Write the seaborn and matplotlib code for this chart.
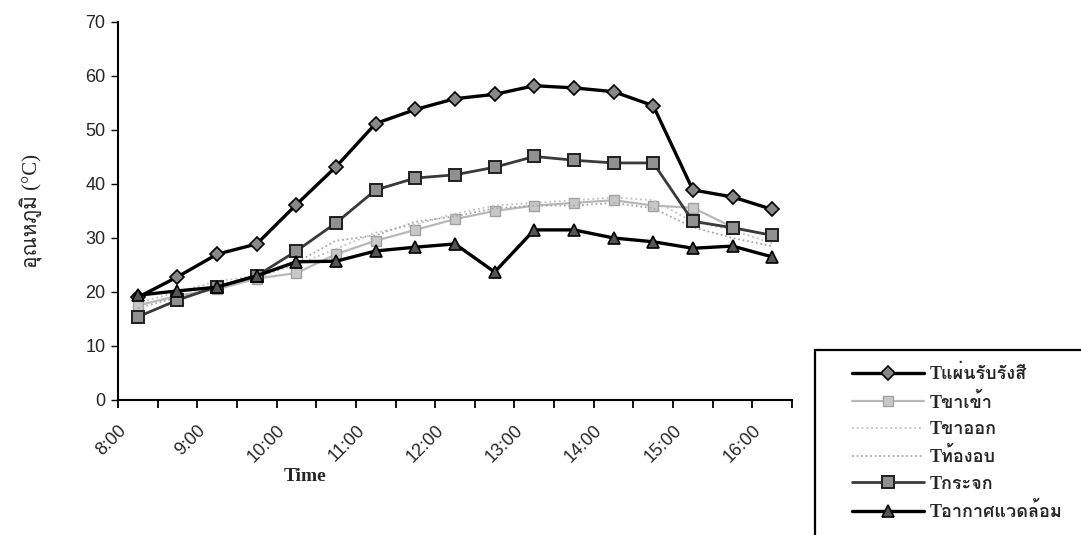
import numpy as np
import pandas as pd
import matplotlib
matplotlib.use("Agg")
import matplotlib.pyplot as plt
import seaborn as sns
from matplotlib import font_manager
from matplotlib.ft2font import FT2Font
from matplotlib.patches import Rectangle

# ---------------- data ----------------
times = [8.25, 8.75, 9.25, 9.75, 10.25, 10.75, 11.25, 11.75, 12.25,
         12.75, 13.25, 13.75, 14.25, 14.75, 15.25, 15.75, 16.25]
tick_labels = ["8:00", "9:00", "10:00", "11:00", "12:00", "13:00", "14:00", "15:00", "16:00"]
tick_hours = [8, 9, 10, 11, 12, 13, 14, 15, 16]

t_absorber = [19.0, 22.8, 27.0, 28.9, 36.2, 43.2, 51.2, 53.8, 55.8, 56.6, 58.2, 57.8, 57.1, 54.5, 38.9, 37.6, 35.3]
t_inlet    = [17.5, 19.3, 20.5, 22.5, 23.5, 27.0, 29.5, 31.5, 33.5, 35.0, 36.0, 36.5, 37.0, 36.0, 35.6, 32.0, 30.5]
t_outlet   = [18.0, 20.0, 22.0, 23.0, 25.0, 28.0, 31.0, 32.5, 34.5, 36.0, 36.5, 37.0, 37.5, 37.0, 33.0, 31.5, 29.0]
t_chamber  = [17.0, 19.0, 21.0, 22.5, 25.5, 29.5, 30.5, 33.0, 34.0, 35.5, 36.0, 36.0, 36.5, 35.5, 32.0, 30.0, 28.5]
t_glass    = [15.4, 18.5, 21.0, 23.0, 27.6, 32.8, 38.9, 41.1, 41.7, 43.1, 45.1, 44.4, 43.9, 43.9, 33.1, 31.9, 30.5]
t_ambient  = [19.4, 20.2, 20.9, 23.0, 25.6, 25.7, 27.6, 28.3, 28.9, 23.7, 31.5, 31.5, 30.0, 29.3, 28.1, 28.5, 26.5]

labels = ["Tแผ่นรับรังสี", "Tขาเข้า", "Tขาออก", "Tท้องอบ", "Tกระจก", "Tอากาศแวดล้อม"]

# ---------------- fonts ----------------
sns.set_style("white")

def find_thai_family():
    for f in font_manager.fontManager.ttflist:
        try:
            ft = FT2Font(f.fname)
            if ft.get_char_index(ord("อ")) and ft.get_char_index(ord("ภ")):
                return f.name
        except Exception:
            continue
    return None

thai = find_thai_family()
sans = ["Liberation Sans"] + ([thai] if thai else []) + ["DejaVu Sans"]
serif = ["Liberation Serif"] + ([thai] if thai else []) + ["DejaVu Sans"]
plt.rcParams["font.family"] = sans

# ---------------- figure ----------------
W, H = 1081, 535
fig = plt.figure(figsize=(W / 100, H / 100), dpi=100)
ax = fig.add_axes([118 / W, 1 - 400 / H, 674 / W, 378 / H])

styles = [
    dict(color="black", lw=2.4, marker="D", ms=7, mfc="#888888", mec="black", mew=1.2, ls="-"),
    dict(color="#b8b8b8", lw=1.6, marker="s", ms=7, mfc="#c8c8c8", mec="#a0a0a0", mew=1.0, ls="-"),
    dict(color="#c0c0c0", lw=1.3, marker="", ms=0, mfc="none", mec="none", mew=0, ls=":"),
    dict(color="#a8a8a8", lw=1.3, marker="", ms=0, mfc="none", mec="none", mew=0, ls=(0, (1, 1.5))),
    dict(color="#3a3a3a", lw=2.0, marker="s", ms=8, mfc="#909090", mec="#202020", mew=1.4, ls="-"),
    dict(color="black", lw=2.4, marker="^", ms=9, mfc="#555555", mec="black", mew=1.2, ls="-"),
]
series = [t_absorber, t_inlet, t_outlet, t_chamber, t_glass, t_ambient]
order = [2, 3, 1, 4, 5, 0]
for i in order:
    st = styles[i]
    sns.lineplot(x=times, y=series[i], ax=ax, sort=False, color=st["color"],
                 linewidth=st["lw"], linestyle=st["ls"], marker=st["marker"] or None,
                 markersize=st["ms"], markerfacecolor=st["mfc"], markeredgecolor=st["mec"],
                 markeredgewidth=st["mew"], label=labels[i], zorder=3 + i)

ax.set_xlim(8.0, 16.5)
ax.set_ylim(0, 70)
ax.set_yticks(range(0, 71, 10))
ax.set_xticks(np.arange(8.0, 16.51, 0.5), minor=True)
ax.set_xticks(tick_hours)
ax.set_xticklabels(tick_labels, rotation=45, ha="right", rotation_mode="anchor")
ax.tick_params(axis="x", which="both", direction="out", length=6, width=1.3, color="black",
               bottom=True, labelsize=13, pad=10)
ax.tick_params(axis="y", direction="out", length=5, width=1.0, color="black", left=True,
               labelsize=13, pad=4)

for s in ["top", "right"]:
    ax.spines[s].set_visible(False)
for s in ["left", "bottom"]:
    ax.spines[s].set_color("black")
    ax.spines[s].set_linewidth(1.5)

ax.set_xlabel("Time", fontsize=14, fontweight="bold", family=serif)
ax.xaxis.set_label_coords(0.277, -0.18)
ax.set_ylabel("อุณหภูมิ (°C)", fontsize=15, family=serif)
ax.yaxis.set_label_coords(-0.112, 0.5)
ax.grid(False)

h, l = ax.get_legend_handles_labels()
lmap = dict(zip(l, h))
if ax.get_legend() is not None:
    ax.get_legend().remove()

# legend frame (extends past the bottom edge as in the reference)
fig.patches.append(Rectangle((815 / W, -0.05), (W + 10 - 815) / W, (H - 350) / H + 0.05,
                             transform=fig.transFigure, fill=False, edgecolor="black",
                             linewidth=1.6, zorder=1))
leg = fig.legend([lmap[x] for x in labels], labels, loc="upper left",
                 bbox_to_anchor=(852 / W, 1 - 365 / H), frameon=False,
                 prop={"family": serif, "size": 13, "weight": "bold"},
                 handlelength=4.0, handletextpad=0.3, labelspacing=0.52,
                 borderpad=0.0, borderaxespad=0.0)

fig.savefig("out.png", dpi=100, facecolor="white")
